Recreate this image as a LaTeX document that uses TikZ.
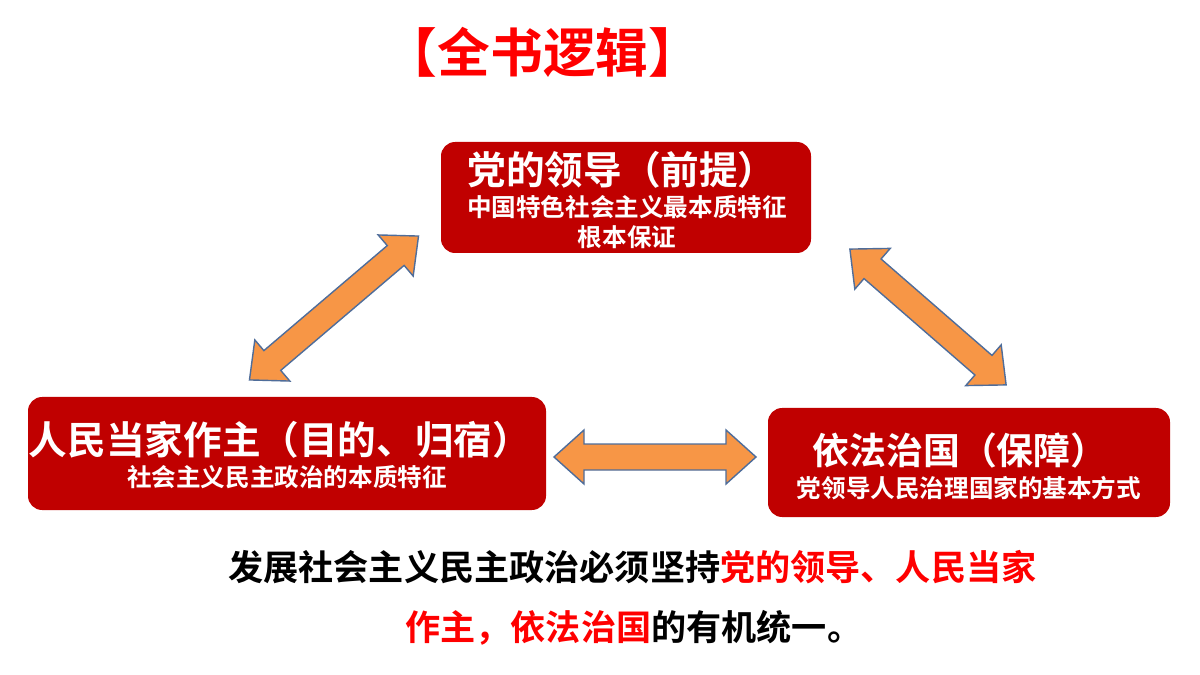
\documentclass[tikz,border=0pt]{standalone}
\usepackage{fontspec}
\setmainfont{Noto Sans CJK SC}[BoldFont={* Bold}]
\definecolor{boxred}{HTML}{C00000}
\definecolor{arrfill}{HTML}{F79646}
\definecolor{arredge}{HTML}{4F6D9A}
\newcommand\mydblarrow[3]{%
  \begin{scope}[shift={#1},rotate=#2]
  \pgfmathsetmacro\hl{#3/2}\pgfmathsetmacro\hb{#3/2-30}
  \filldraw[fill=arrfill,draw=arredge,line width=0.8pt,line join=miter]
    (-\hl,0) -- (-\hb,27) -- (-\hb,13) -- (\hb,13) -- (\hb,27) -- (\hl,0)
    -- (\hb,-27) -- (\hb,-13) -- (-\hb,-13) -- (-\hb,-27) -- cycle;
  \end{scope}}
\begin{document}
\begin{tikzpicture}[x=0.02cm,y=-0.02cm,
  box/.style={fill=boxred,rounded corners=8pt,draw=none},
  wt/.style={text=white,font=\bfseries,inner sep=0pt}]
\useasboundingbox (0,0) rectangle (1200,675);
\node[text=red,font=\bfseries\fontsize{30pt}{34pt}\selectfont,inner sep=0pt] (title) at (543,52) {【全书逻辑】};
\fill[box] (441,142) rectangle (811,253);
\node[wt,font=\bfseries\fontsize{22pt}{26pt}\selectfont] (t1) at (622,170) {党的领导（前提）};
\node[wt,font=\bfseries\fontsize{14pt}{17pt}\selectfont] (t1a) at (627,207) {中国特色社会主义最本质特征};
\node[wt,font=\bfseries\fontsize{14pt}{17pt}\selectfont] (t1b) at (627,237) {根本保证};
\fill[box] (28,397) rectangle (546,510);
\node[wt,font=\bfseries\fontsize{22pt}{26pt}\selectfont] (t2) at (280,440) {人民当家作主（目的、归宿）};
\node[wt,font=\bfseries\fontsize{14pt}{17pt}\selectfont] (t2a) at (287,477) {社会主义民主政治的本质特征};
\fill[box] (768,408) rectangle (1170,517);
\node[wt,font=\bfseries\fontsize{21pt}{25pt}\selectfont] (t3) at (960,450) {依法治国（保障）};
\node[wt,font=\bfseries\fontsize{14pt}{17pt}\selectfont] (t3a) at (969,488) {党领导人民治理国家的基本方式};
\mydblarrow{(334,308)}{40.4}{222}
\mydblarrow{(928,317)}{-41}{207}
\mydblarrow{(655,457)}{0}{202}
\node[font=\bfseries\fontsize{20pt}{24pt}\selectfont,inner sep=0pt,anchor=west] (l1) at (228,567) {发展社会主义民主政治必须坚持\textcolor{red}{党的领导、人民当家}};
\node[font=\bfseries\fontsize{20pt}{24pt}\selectfont,inner sep=0pt,anchor=west] (l2) at (405,628) {\textcolor{red}{作主，依法治国}的有机统一。};
\end{tikzpicture}
\end{document}
